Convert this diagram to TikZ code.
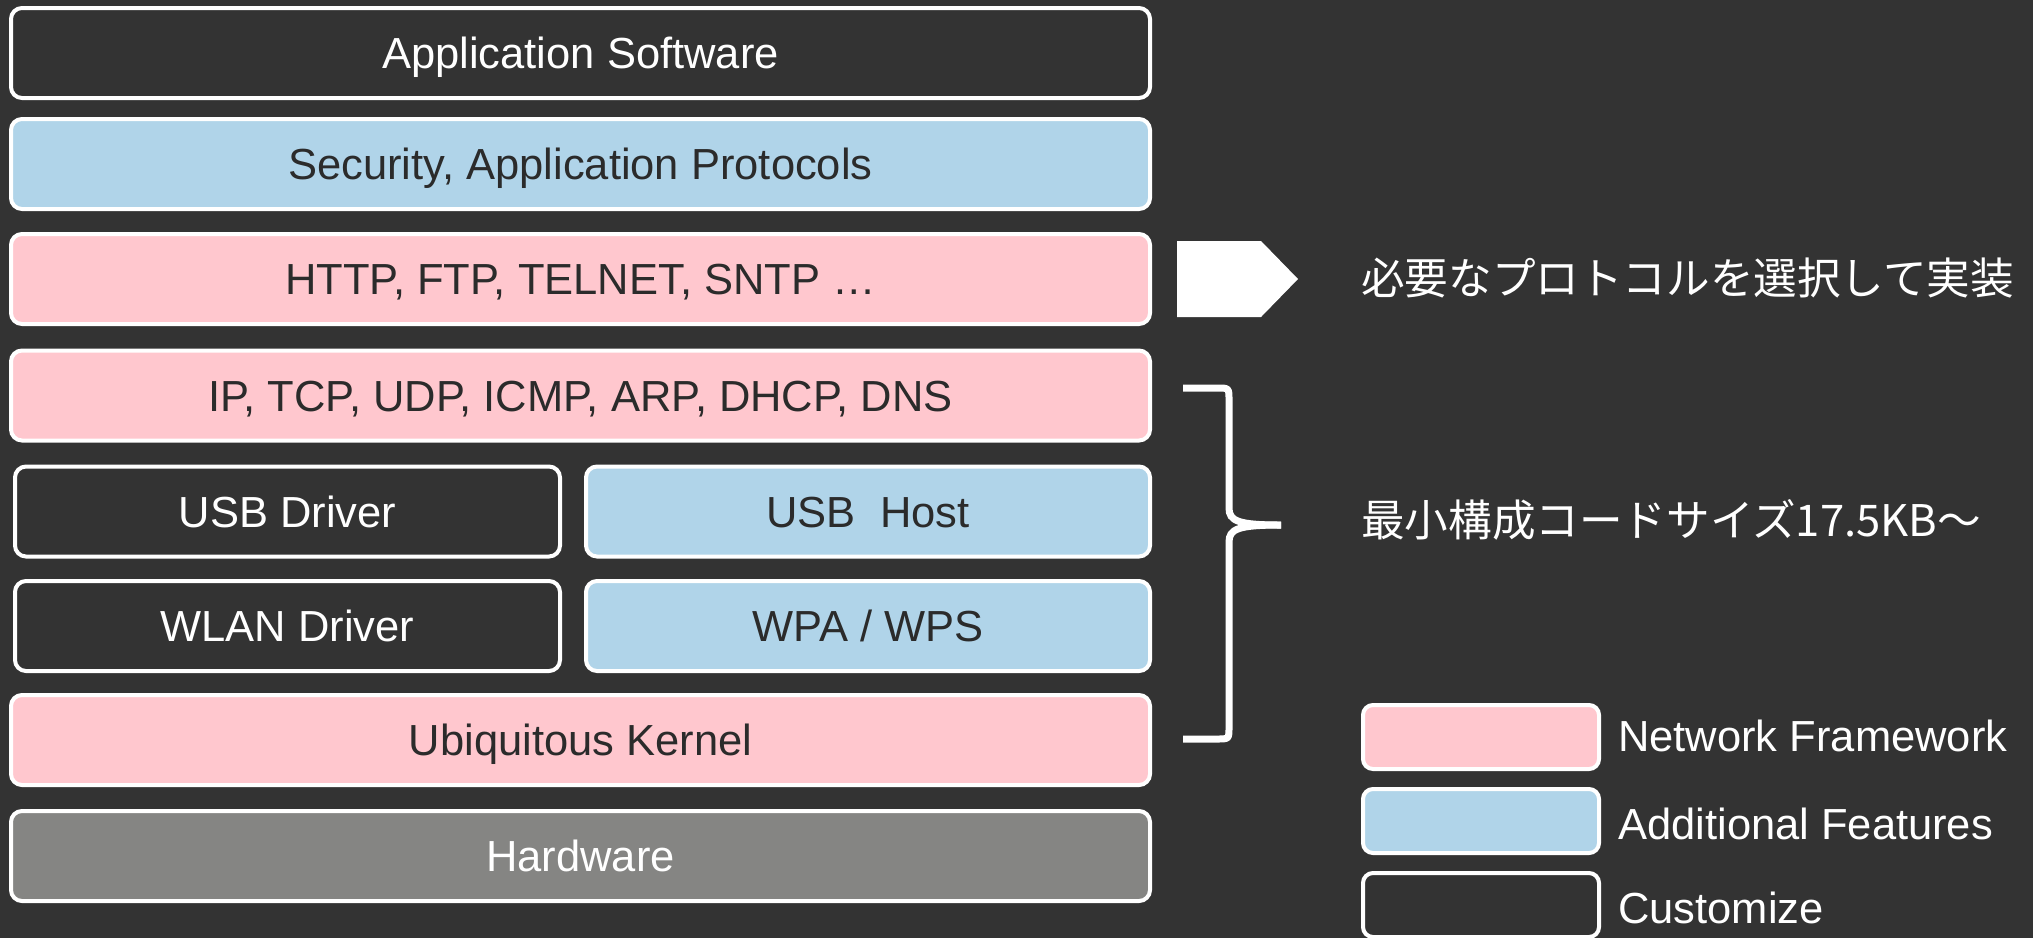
\documentclass[tikz,border=0pt]{standalone}
\usepackage{fontspec}
\setmainfont{Liberation Sans}
\newfontfamily\jpfont{Noto Sans CJK JP}
\definecolor{bgdark}{HTML}{333333}
\definecolor{netpink}{HTML}{FFC7CE}
\definecolor{addblue}{HTML}{B0D4E9}
\definecolor{hwgray}{HTML}{858583}
\definecolor{inktext}{HTML}{2B2B2B}
\begin{document}
\begin{tikzpicture}[x=1pt,y=-1pt,
  layer/.style={draw=white, line width=4pt, rounded corners=11pt, inner sep=0pt,
    text height=31pt, text depth=0pt, font=\fontsize{43.5}{48}\selectfont},
  custom/.style={layer, fill=bgdark, text=white},
  netfw/.style={layer, fill=netpink, text=inktext},
  addfeat/.style={layer, fill=addblue, text=inktext},
  hwbox/.style={layer, fill=hwgray, text=white},
  fullrow/.style={minimum width=1139pt, minimum height=90pt},
  lefthalf/.style={minimum width=545pt, minimum height=90pt},
  righthalf/.style={minimum width=564pt, minimum height=90pt},
  keybox/.style={draw=white, line width=4pt, rounded corners=10pt,
    minimum width=236pt, minimum height=64pt, inner sep=0pt},
  keytext/.style={anchor=base west, inner sep=0pt, text=white,
    font=\fontsize{43.5}{48}\selectfont},
  note/.style={anchor=base west, inner sep=0pt, text=white,
    font=\jpfont\fontsize{43.6}{48}\selectfont},
  bracket/.style={draw=white, line width=7pt}
]
% page and background
\useasboundingbox (0,0) rectangle (2033,938);
\fill[bgdark] (0,0) rectangle (2033,938);

% software stack
\node[custom, fullrow]   (app)    at (580.5,53)   {Application Software};
\node[addfeat, fullrow]  (sec)    at (580.5,164)  {Security, Application Protocols};
\node[netfw, fullrow]    (http)   at (580.5,279)  {HTTP, FTP, TELNET, SNTP …};
\node[netfw, fullrow]    (ip)     at (580.5,395.5){IP, TCP, UDP, ICMP, ARP, DHCP, DNS};
\node[custom, lefthalf]  (usbdrv) at (287.5,511.5){USB Driver};
\node[addfeat, righthalf](usbhost)at (868,511.5)  {USB\ \ Host};
\node[custom, lefthalf]  (wlan)   at (287.5,626)  {WLAN Driver};
\node[addfeat, righthalf](wpa)    at (868,626)    {WPA / WPS};
\node[netfw, fullrow]    (kernel) at (580.5,740)  {Ubiquitous Kernel};
\node[hwbox, fullrow]    (hw)     at (580.5,856)  {Hardware};

% arrow pointing to the protocol note
\fill[white] (1177,241) -- (1261,241) -- (1298,279) -- (1261,317) -- (1177,317) -- cycle;
\node[note] (select) at (1361,294) {必要なプロトコルを選択して実装};

% curly bracket grouping the minimum configuration
\coordinate (brtip) at (1281,525);
\draw[bracket] (1183,388) -- (1217,388) .. controls (1229,388) .. (1229,400)
  -- (1229,508) .. controls (1229,521) and (1238,525) .. (brtip);
\draw[bracket] (1183,739) -- (1217,739) .. controls (1229,739) .. (1229,727)
  -- (1229,542) .. controls (1229,529) and (1238,525) .. (brtip);
\node[note] (minsize) at (1361,536) {最小構成コードサイズ17.5KB〜};

% legend
\node[keybox, fill=netpink] (keynet)  at (1481,737) {};
\node[keybox, fill=addblue] (keyadd)  at (1481,821) {};
\node[keybox, fill=bgdark]  (keycust) at (1481,905) {};
\node[keytext] (keynettxt)  at (1618,751) {Network Framework};
\node[keytext] (keyaddtxt)  at (1618,839) {Additional Features};
\node[keytext] (keycusttxt) at (1618,923) {Customize};
\end{tikzpicture}
\end{document}
